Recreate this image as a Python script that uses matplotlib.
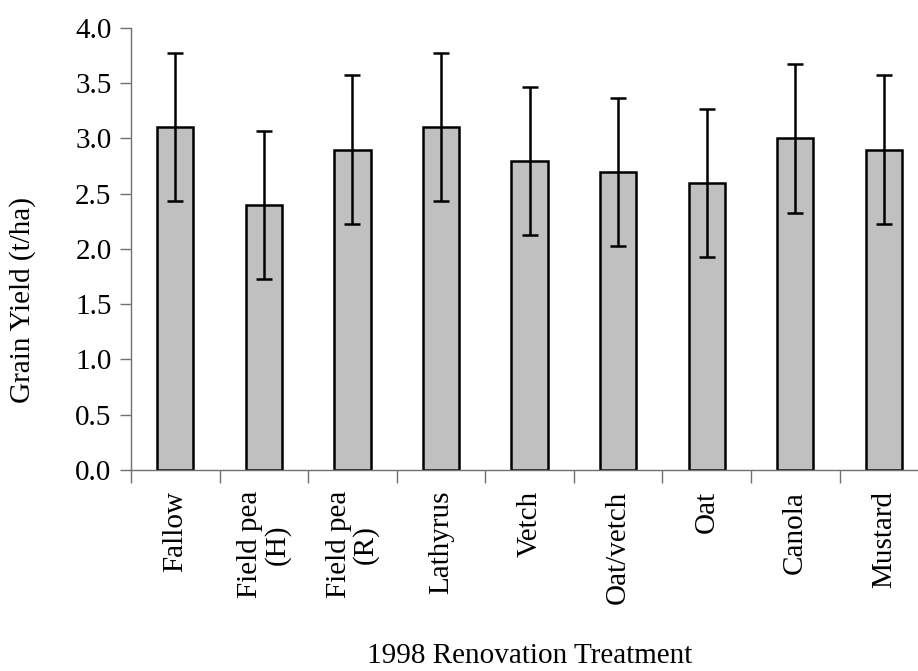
import numpy as np
import matplotlib
matplotlib.use("Agg")
import matplotlib.pyplot as plt
from matplotlib.ticker import FixedLocator, FormatStrFormatter

# data
treatments = ["Fallow", "Field pea\n(H)", "Field pea\n(R)", "Lathyrus", "Vetch",
              "Oat/vetch", "Oat", "Canola", "Mustard"]
grain_yield = [3.1, 2.4, 2.9, 3.1, 2.8, 2.7, 2.6, 3.0, 2.9]
yield_err = [0.67, 0.67, 0.67, 0.67, 0.67, 0.67, 0.67, 0.67, 0.67]

plt.rcParams['font.family'] = ['Liberation Serif', 'DejaVu Serif']
plt.rcParams['font.size'] = 21

fig = plt.figure(figsize=(9.18, 6.71), dpi=100)
ax = fig.add_axes([0.1427, 0.2996, 0.8683, 0.6587])

x = np.arange(len(treatments))
ax.bar(x, grain_yield, width=0.41, color='#C0C0C0', edgecolor='black', linewidth=1.8, zorder=2)
ax.errorbar(x, grain_yield, yerr=yield_err, fmt='none', ecolor='black',
            elinewidth=1.8, capsize=6, capthick=1.8, zorder=3)

ax.set_xlim(-0.5, len(treatments) - 0.5)
ax.set_ylim(0, 4.0)
ax.set_yticks(np.arange(0, 4.01, 0.5))
ax.yaxis.set_major_formatter(FormatStrFormatter('%.1f'))

ax.set_xticks(x)
ax.set_xticklabels(treatments, rotation=90, va='top', ha='center', linespacing=1.0)
ax.xaxis.set_minor_locator(FixedLocator(np.arange(-0.5, len(treatments), 1.0)))
ax.tick_params(axis='x', which='major', length=0, pad=15)
ax.tick_params(axis='x', which='minor', length=9, width=1, color='#707070', direction='out')
ax.tick_params(axis='y', length=8, width=1, color='#707070', direction='out', pad=6)

for s in ['top', 'right']:
    ax.spines[s].set_visible(False)
for s in ['left', 'bottom']:
    ax.spines[s].set_color('#707070')
    ax.spines[s].set_linewidth(1)

ax.set_xlabel("1998 Renovation Treatment")
ax.xaxis.set_label_coords(0.5, -0.42)
ax.xaxis.label.set_va('center')
ax.set_ylabel("Grain Yield (t/ha)")
ax.yaxis.set_label_coords(-0.1355, 0.385)
ax.yaxis.label.set_va('center')

plt.savefig("out.png", dpi=100)
